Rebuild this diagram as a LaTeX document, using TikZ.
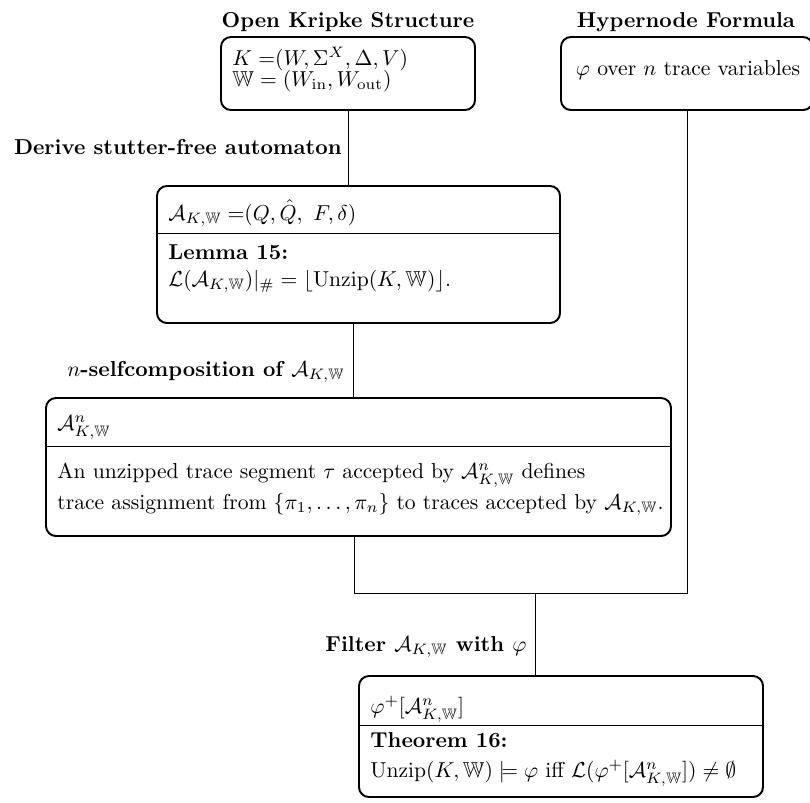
\documentclass[tikz,border=0pt]{standalone}
\usepackage{amsmath,amssymb}
\usetikzlibrary{fit}
\begin{document}
\begin{tikzpicture}[x=0.463pt, y=-0.463pt,
  box/.style={draw, line width=0.9pt, rounded corners=4.6pt, inner sep=0pt},
  conn/.style={line width=0.45pt},
  sep/.style={line width=0.45pt},
  txt/.style={anchor=base west, inner sep=0pt},
  lbl/.style={anchor=base east, inner sep=0pt, font=\bfseries},
  ttl/.style={anchor=base, inner sep=0pt, font=\bfseries}]
\useasboundingbox (0,0) rectangle (810,802);

% boxes
\node[box, fit={(221,37) (475,110)}] (k) {};
\node[box, fit={(561,37) (813,110)}] (h) {};
\node[box, fit={(157,186) (560,323)}] (b2) {};
\node[box, fit={(46,398) (671,536)}] (b3) {};
\node[box, fit={(359,676) (763,797)}] (b4) {};

% dividers
\draw[sep] (157,233) -- (560,233);
\draw[sep] (46,446) -- (671,446);
\draw[sep] (359,725) -- (763,725);

% titles
\node[ttl] (tk) at (348,27) {Open Kripke Structure};
\node[ttl] (th) at (686,27) {Hypernode Formula};

% box texts
\node[txt] (k1) at (232,65) {$K\mskip\thickmuskip{=}(W, \Sigma^X, \Delta, V)$};
\node[txt] (k2) at (232,86) {$\mathbb{W} = (W_{\mathrm{in}}, W_{\mathrm{out}})$};
\node[anchor=base, inner sep=0pt] (h1) at (688,75) {$\varphi$ over $n$ trace variables};

\node[txt] (t2) at (168,220) {$\mathcal{A}_{K,\mathbb{W}}\mskip\thickmuskip{=}(Q, \hat{Q},\ F, \delta)$};
\node[txt, font=\bfseries] (l2) at (168,259) {Lemma 15:};
\node[txt] (f2) at (168,286) {$\mathcal{L}(\mathcal{A}_{K,\mathbb{W}})|_{\#} = \lfloor \mathrm{Unzip}(K, \mathbb{W}) \rfloor$.};

\node[txt] (t3) at (57,430) {$\mathcal{A}^n_{K,\mathbb{W}}$};
\node[txt] (b3a) at (57,478) {An unzipped trace segment $\tau$ accepted by $\mathcal{A}^n_{K,\mathbb{W}}$ defines};
\node[txt] (b3b) at (57,509) {trace assignment from $\{\pi_1, \ldots, \pi_n\}$ to traces accepted by $\mathcal{A}_{K,\mathbb{W}}$.};

\node[txt] (t4) at (370,713) {$\varphi^+[\mathcal{A}^n_{K,\mathbb{W}}]$};
\node[txt, font=\bfseries] (l4) at (370,747) {Theorem 16:};
\node[txt] (f4) at (370,777) {$\mathrm{Unzip}(K, \mathbb{W}) \models \varphi$ iff $\mathcal{L}(\varphi^+[\mathcal{A}^n_{K,\mathbb{W}}]) \neq \emptyset$};

% connector labels
\node[lbl] (d1) at (342,154) {Derive stutter-free automaton};
\node[lbl] (d2) at (345,376) {$n$-selfcomposition of $\mathcal{A}_{K,\mathbb{W}}$};
\node[lbl] (d3) at (527,651) {Filter $\mathcal{A}_{K,\mathbb{W}}$ with $\varphi$};

% connectors
\coordinate (x353) at (353,0);
\coordinate (j) at (354,593);
\coordinate (f) at (535,593);
\draw[conn] (k.south) -- (k.south |- b2.north);
\draw[conn] (b2.south -| x353) -- (b3.north -| x353);
\draw[conn] (b3.south -| j) -- (j) -| (h.south);
\draw[conn] (f) -- (f |- b4.north);
\end{tikzpicture}
\end{document}
